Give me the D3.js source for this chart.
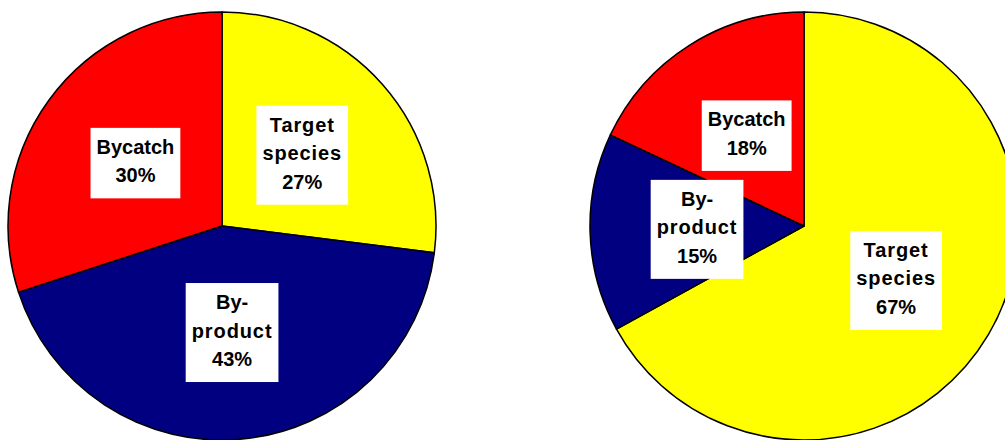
<!DOCTYPE html>
<html>
<head>
<meta charset="utf-8">
<script src="https://cdn.jsdelivr.net/npm/d3@7"></script>
<style>
  body { margin: 0; background: #fff; }
  svg { display: block; }
  .lbl text { font-family: "Liberation Sans", Arial, sans-serif; font-weight: bold; font-size: 20px; fill: #000; }
</style>
</head>
<body>
<svg id="chart" width="1005" height="440"></svg>
<script>
// categories, in drawing order (clockwise from 12 o'clock)
var categories = ["Target species", "By-product", "Bycatch"];
var colors = ["#ffff00", "#000080", "#ff0000"];

// percentages for each pie
var leftValues = [27, 43, 30];
var rightValues = [67, 15, 18];

// label lines per category
var labelLines = [["Target", "species"], ["By-", "product"], ["Bycatch"]];
var spaced = ["Target", "species", "product"];

var W = 1005, H = 440;
var radius = 214;
var pies = [
  { cx: 222, cy: 226, values: leftValues },
  { cx: 804, cy: 226, values: rightValues }
];

var svg = d3.select("#chart");

var pie = d3.pie().sort(null).value(function(d) { return d.value; });
var arc = d3.arc().innerRadius(0).outerRadius(radius);

pies.forEach(function(p) {
  var data = categories.map(function(c, i) {
    return { name: c, value: p.values[i], color: colors[i], lines: labelLines[i] };
  });

  var g = svg.append("g").attr("transform", "translate(" + p.cx + "," + p.cy + ")");
  var arcs = pie(data);

  g.selectAll("path")
    .data(arcs)
    .enter()
    .append("path")
      .attr("d", arc)
      .style("fill", function(d) { return d.data.color; })
      .style("stroke", "#000")
      .style("stroke-width", 1.5)
      .style("stroke-linejoin", "round");

  var lineH = 28.5;
  var lbl = g.selectAll("g.lbl")
    .data(arcs)
    .enter()
    .append("g")
      .attr("class", "lbl")
      .attr("transform", function(d) {
        var c = arc.centroid(d);
        return "translate(" + c[0] + "," + c[1] + ")";
      });

  lbl.each(function(d) {
    var el = d3.select(this);
    var lines = d.data.lines.concat([d.data.value + "%"]);
    var n = lines.length;
    var top = -(42 + lineH * (n - 1)) / 2;
    var rect = el.append("rect").style("fill", "#fff");
    var t = el.append("text").attr("text-anchor", "middle");
    lines.forEach(function(s, i) {
      t.append("tspan")
        .attr("x", 0)
        .attr("y", top + 26 + i * lineH)
        .style("letter-spacing", spaced.indexOf(s) >= 0 ? "0.9px" : "0px")
        .text(s);
    });
    var bb = t.node().getBBox();
    var pad = 6;
    rect.attr("x", -bb.width / 2 - pad)
      .attr("y", top)
      .attr("width", bb.width + pad * 2)
      .attr("height", 42 + lineH * (n - 1));
  });
});
</script>
</body>
</html>
